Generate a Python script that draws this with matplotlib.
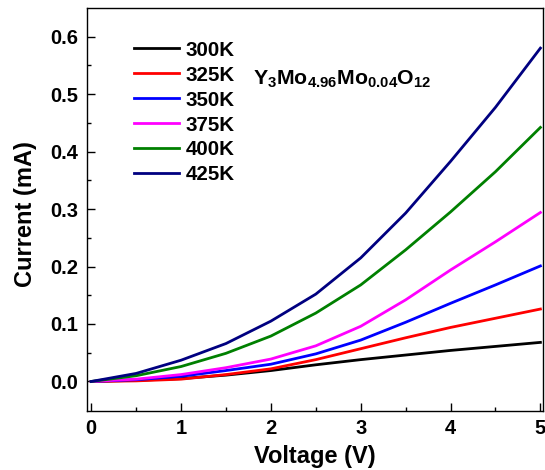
import matplotlib
matplotlib.use("Agg")
import matplotlib.pyplot as plt

plt.rcParams['font.family'] = ['Liberation Sans', 'DejaVu Sans']
plt.rcParams['font.weight'] = 'bold'
plt.rcParams['mathtext.fontset'] = 'custom'
plt.rcParams['mathtext.rm'] = 'Liberation Sans:bold'
plt.rcParams['mathtext.it'] = 'Liberation Sans:bold'
plt.rcParams['mathtext.bf'] = 'Liberation Sans:bold'

voltage = [0, 0.5, 1.0, 1.5, 2.0, 2.5, 3.0, 3.5, 4.0, 4.5, 5.0]
i_300K = [0, 0.002, 0.005, 0.011, 0.019, 0.029, 0.038, 0.046, 0.054, 0.061, 0.068]
i_325K = [0, 0.001, 0.004, 0.012, 0.022, 0.038, 0.057, 0.076, 0.094, 0.110, 0.126]
i_350K = [0, 0.003, 0.009, 0.019, 0.030, 0.048, 0.072, 0.103, 0.136, 0.168, 0.201]
i_375K = [0, 0.004, 0.012, 0.024, 0.039, 0.062, 0.096, 0.142, 0.194, 0.243, 0.294]
i_400K = [0, 0.010, 0.026, 0.049, 0.079, 0.119, 0.168, 0.229, 0.295, 0.365, 0.442]
i_425K = [0, 0.014, 0.037, 0.066, 0.105, 0.152, 0.215, 0.293, 0.383, 0.477, 0.580]

labels = ['300K', '325K', '350K', '375K', '400K', '425K']
series = [i_300K, i_325K, i_350K, i_375K, i_400K, i_425K]
colors = ['black', 'red', 'blue', 'magenta', 'green', 'navy']

fig = plt.figure(figsize=(5.45, 4.70), dpi=100)
ax = fig.add_axes([0.159, 0.126, 0.838, 0.856])

for y, lab, c in zip(series, labels, colors):
    ax.plot(voltage, y, color=c, lw=2.0, label=lab)

ax.set_xlim(-0.051, 5.033)
ax.set_ylim(-0.051, 0.649)
ax.set_xticks([0, 1, 2, 3, 4, 5])
ax.set_xticks([0.5, 1.5, 2.5, 3.5, 4.5], minor=True)
ax.set_yticks([0.0, 0.1, 0.2, 0.3, 0.4, 0.5, 0.6])
ax.set_yticks([0.05, 0.15, 0.25, 0.35, 0.45, 0.55], minor=True)
ax.set_yticklabels(['0.0', '0.1', '0.2', '0.3', '0.4', '0.5', '0.6'])
ax.tick_params(which='both', direction='in', top=False, right=False, width=1.0)
ax.tick_params(which='major', length=5.5, labelsize=14.5, pad=6)
ax.tick_params(which='minor', length=3)
for s in ax.spines.values():
    s.set_linewidth(1.0)

ax.set_xlabel('Voltage (V)', fontsize=17, fontweight='bold', labelpad=5)
ax.set_ylabel('Current (mA)', fontsize=17, fontweight='bold')
ax.yaxis.set_label_coords(-0.108, 0.49)

leg = ax.legend(loc='upper left', bbox_to_anchor=(0.104, 0.92), frameon=False,
                fontsize=14.8, handlelength=2.2, handletextpad=0.3,
                labelspacing=0.29, borderpad=0, borderaxespad=0)

ax.text(0.364, 0.8095, r'$\mathregular{Y_3Mo_{4.96}Mo_{0.04}O_{12}}$',
        transform=ax.transAxes, fontsize=15.3, fontweight='bold', ha='left', va='baseline')

fig.savefig('out.png', dpi=100)
